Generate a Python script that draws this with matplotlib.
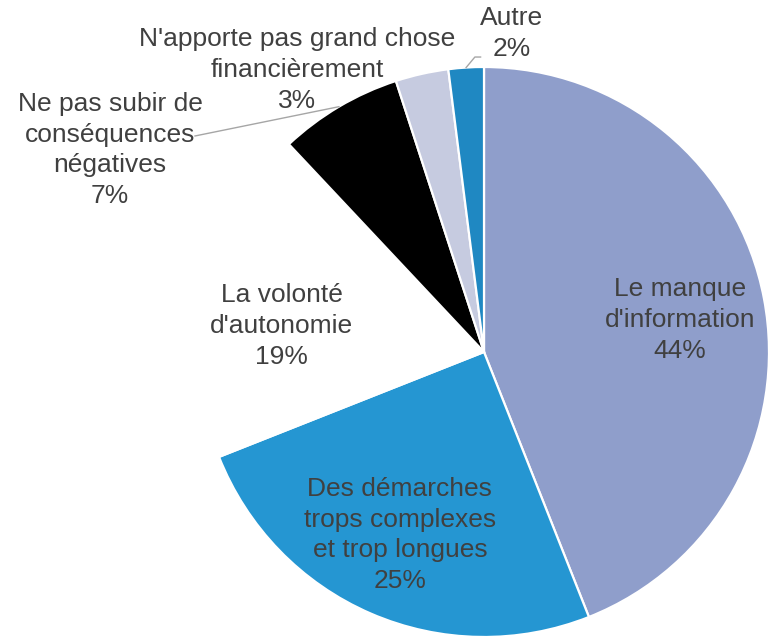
import numpy as np
import matplotlib
matplotlib.use("Agg")
import matplotlib.pyplot as plt

plt.rcParams["font.family"] = ["Liberation Sans", "DejaVu Sans"]

labels = [
    "Le manque\nd'information",
    "Des démarches\ntrops complexes\net trop longues",
    "La volonté\nd'autonomie",
    "Ne pas subir de\nconséquences\nnégatives",
    "N'apporte pas grand chose\nfinancièrement",
    "Autre",
]
values = [44, 25, 19, 7, 3, 2]
colors = ["#8f9ecb", "#2596d2", "#ffffff", "#000000", "#c6cbe0", "#1f88c2"]

# label anchor in pie units (radius = 1)
label_pos = [(0.688, 0.112), (-0.295, -0.642), (-0.709, 0.091),
             (-1.312, 0.709), (-0.656, 0.989), (0.098, 1.119)]

W, H = 769, 638
cx, cy, R = 484, 352, 285

fig = plt.figure(figsize=(W / 100, H / 100), dpi=100)
ax = fig.add_axes([(cx - R) / W, (H - cy - R) / H, 2 * R / W, 2 * R / H])

wedges, _ = ax.pie(values, colors=colors, startangle=90, counterclock=False,
                   radius=1, wedgeprops=dict(edgecolor="white", linewidth=1.6))
ax.set_xlim(-1, 1)
ax.set_ylim(-1, 1)
ax.set_aspect("equal")
ax.axis("off")

txt_col = "#404040"
for lab, val, (x, y) in zip(labels, values, label_pos):
    ax.text(x, y, f"{lab}\n{val}%", ha="center", va="center", fontsize=19,
            color=txt_col, linespacing=1.36, clip_on=False)

# leader lines
def arc_mid(w):
    t = np.deg2rad((w.theta1 + w.theta2) / 2)
    return np.cos(t), np.sin(t)

mx, my = arc_mid(wedges[3])
ax.plot([mx, -1.014], [my, 0.758], color="#a6a6a6", lw=1, clip_on=False)
mx, my = arc_mid(wedges[5])
ax.plot([mx, -0.032, -0.012], [my, 1.035, 1.035], color="#a6a6a6", lw=1,
        clip_on=False)

fig.savefig("out.png", dpi=100)
